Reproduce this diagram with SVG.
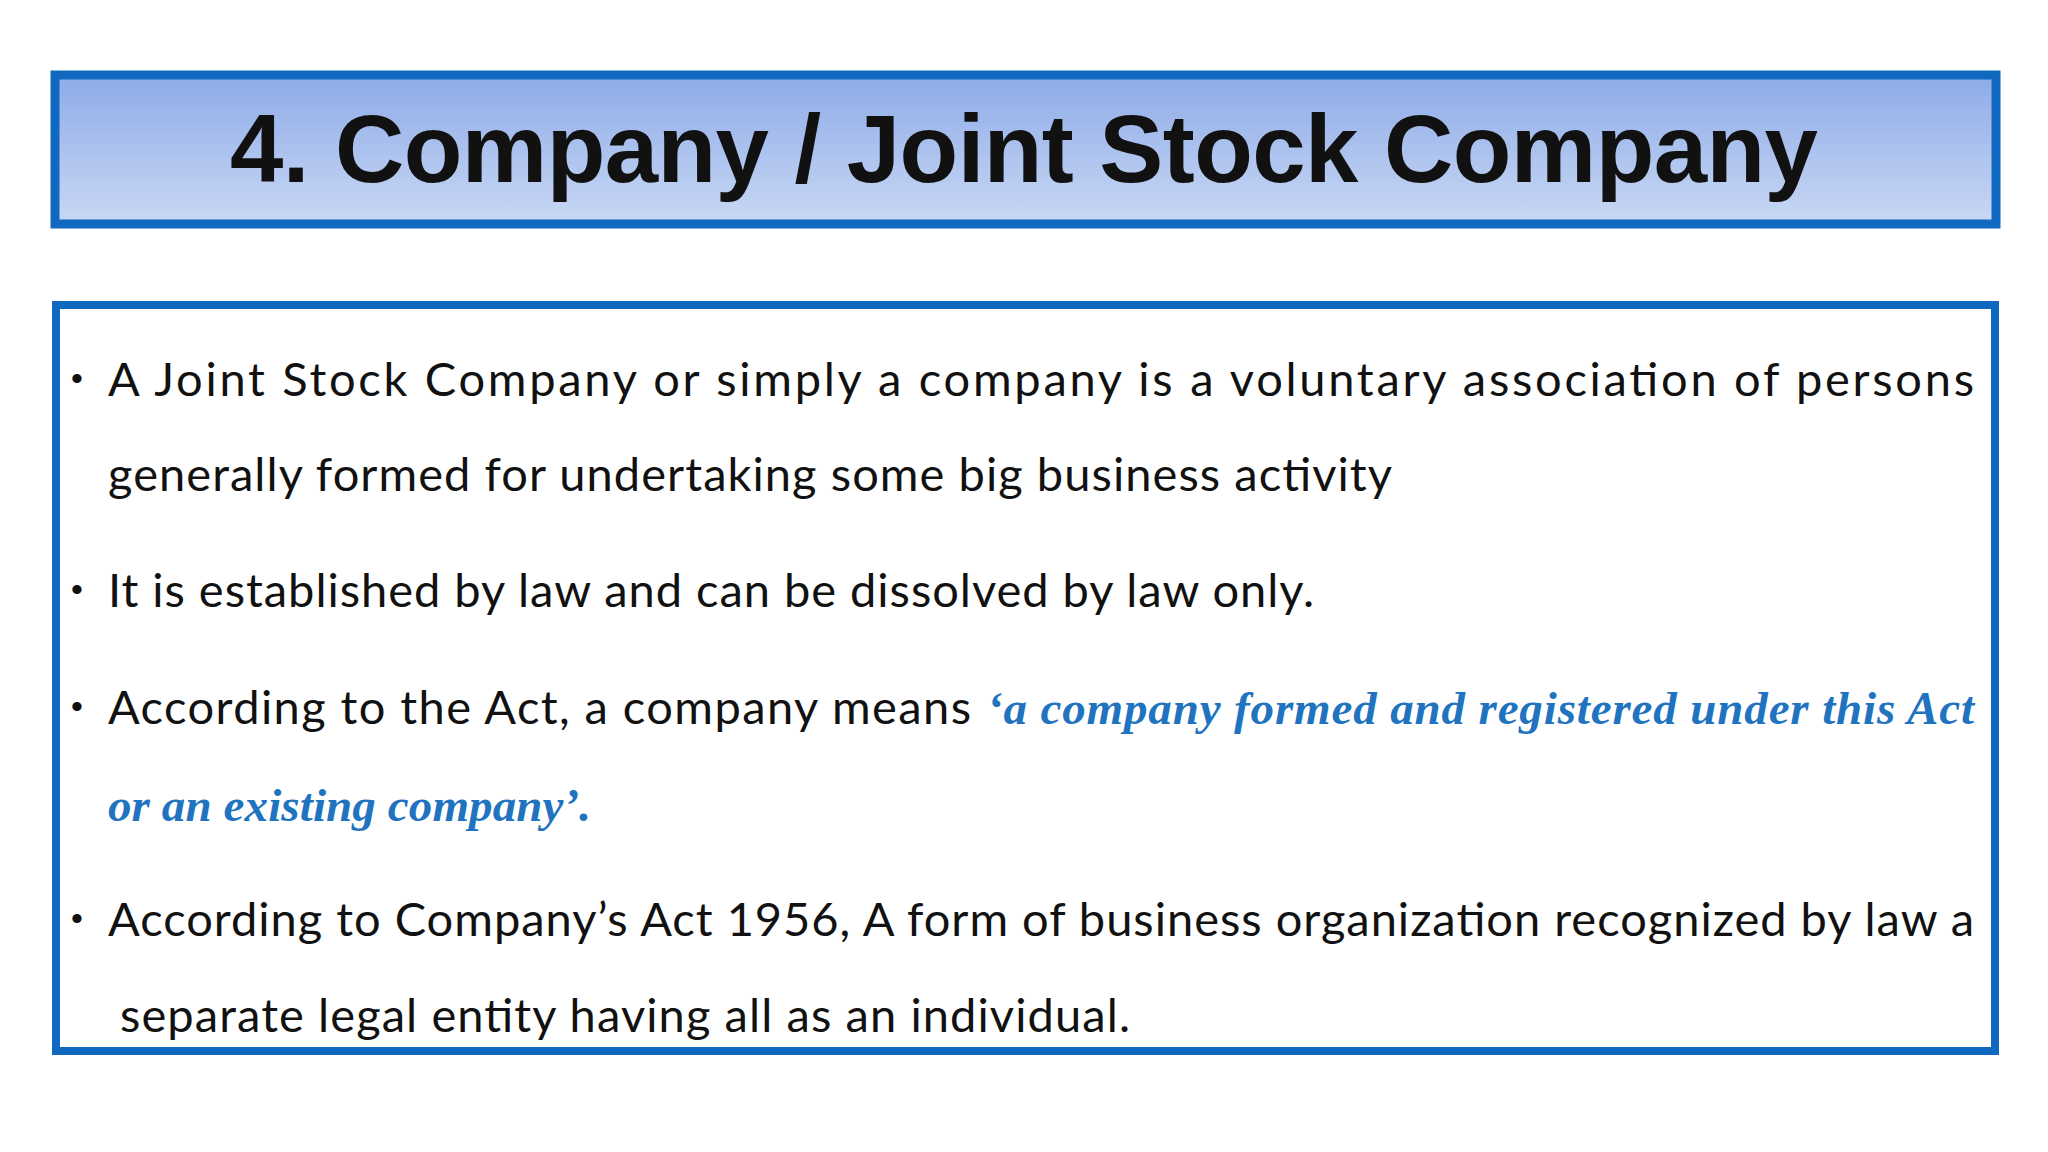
<svg xmlns="http://www.w3.org/2000/svg" width="2048" height="1152" viewBox="0 0 2048 1152">
<defs>
<linearGradient id="tg" x1="0" y1="0" x2="0" y2="1">
<stop offset="0" stop-color="#8eabe8"/>
<stop offset="1" stop-color="#c9d8f4"/>
</linearGradient>
<style>
.b{font-family:Lato,"Open Sans",sans-serif;font-size:47px;fill:#111}
.i{font-family:"Liberation Serif",serif;font-style:italic;font-weight:bold;font-size:47px;fill:#1f73bf}
.d{font-family:"Liberation Sans",sans-serif;font-size:34px;fill:#111}
</style>
</defs>
<rect width="2048" height="1152" fill="#fff"/>
<g id="title">
<rect x="55" y="75" width="1941" height="149" fill="url(#tg)" stroke="#1068c0" stroke-width="9"/>
<text x="1024" y="182" text-anchor="middle" font-family="Liberation Sans,sans-serif" font-weight="bold" font-size="96" fill="#111" textLength="1588">4. Company / Joint Stock Company</text>
</g>
<g id="content">
<rect x="56" y="305" width="1939" height="746" fill="#fff" stroke="#1068c0" stroke-width="8"/>
<text class="d" x="71" y="390">•</text>
<text class="b" x="108" y="396" textLength="1866">A Joint Stock Company or simply a company is a voluntary association of persons</text>
<text class="b" x="108" y="491" textLength="1284">generally formed for undertaking some big business activity</text>
<text class="d" x="71" y="601">•</text>
<text class="b" x="108" y="607" textLength="1206">It is established by law and can be dissolved by law only.</text>
<text class="d" x="71" y="718">•</text>
<text class="b" x="108" y="724" textLength="863">According to the Act, a company means</text>
<text class="i" x="987" y="724" textLength="987">‘a company formed and registered under this Act</text>
<text class="i" x="108" y="821" textLength="483">or an existing company’.</text>
<text class="d" x="71" y="930">•</text>
<text class="b" x="108" y="936" textLength="1866">According to Company’s Act 1956, A form of business organization recognized by law a</text>
<text class="b" x="120" y="1032" textLength="1010">separate legal entity having all as an individual.</text>
</g>
</svg>
